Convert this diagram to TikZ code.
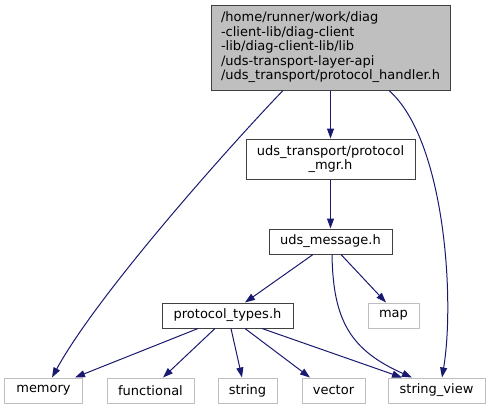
\documentclass[tikz,border=0pt]{standalone}
\usepackage{fontspec}
\setmainfont{DejaVu Sans}
\usetikzlibrary{arrows.meta}
\definecolor{edgeblue}{HTML}{191970}
\definecolor{leafgray}{HTML}{BFBFBF}
\definecolor{topfill}{HTML}{BFBFBF}
\definecolor{darkborder}{HTML}{404040}
\begin{document}
\begin{tikzpicture}[x=1bp,y=-1bp,
  every node/.style={font=\fontsize{13bp}{14.5bp}\selectfont, inner sep=0pt, line width=1bp},
  mainbox/.style={draw=darkborder, minimum height=25bp},
  leafbox/.style={draw=leafgray, minimum height=25bp},
  dep/.style={draw=edgeblue, line width=1bp, -{Triangle[length=10bp,width=7bp]}}
]
\useasboundingbox (0,0) rectangle (491,409);
\node[draw=darkborder, fill=topfill, minimum width=239bp, minimum height=85bp, align=left] (top) at (330.5,47.5)
  {/home/runner/work/diag\\-client-lib/diag-client\\-lib/diag-client-lib/lib\\/uds-transport-layer-api\\/uds\_transport/protocol\_handler.h};
\node[mainbox, minimum width=169bp, minimum height=40bp, align=center] (mgr) at (330.5,159) {uds\_transport/protocol\\\_mgr.h};
\node[mainbox, minimum width=123bp] (msg) at (330.5,241.5) {uds\_message.h};
\node[mainbox, minimum width=131bp] (pt) at (227.5,315.5) {protocol\_types.h};
\node[leafbox, minimum width=51bp] (map) at (393.5,315.5) {map};
\node[leafbox, minimum width=77bp] (memory) at (43.5,390.5) {memory};
\node[leafbox, minimum width=87bp] (functional) at (150.5,390.5) {functional};
\node[leafbox, minimum width=59bp] (string) at (247.5,390.5) {string};
\node[leafbox, minimum width=63bp] (vector) at (333.5,390.5) {vector};
\node[leafbox, minimum width=97bp] (sv) at (436.5,390.5) {string\_view};

\draw[dep] ([xshift=-47.5bp]top.south) .. controls (240,135) and (100,290) .. ([xshift=8.5bp]memory.north);
\draw[dep] (top.south) -- (mgr.north);
\draw[dep] ([xshift=58.5bp]top.south) .. controls (445,140) and (455,300) .. ([xshift=5.5bp]sv.north);
\draw[dep] (mgr.south) -- (msg.north);
\draw[dep] ([xshift=-17.5bp]msg.south) -- ([xshift=17.5bp]pt.north);
\draw[dep] ([xshift=10.5bp]msg.south) -- ([xshift=-7.5bp]map.north);
\draw[dep] ([xshift=1.5bp]msg.south) .. controls (333,320) and (350,350) .. ([xshift=-24.5bp]sv.north);
\draw[dep] ([xshift=-29.5bp]pt.south) -- ([xshift=31.5bp]memory.north);
\draw[dep] ([xshift=-12.5bp]pt.south) -- ([xshift=12.5bp]functional.north);
\draw[dep] ([xshift=3.5bp]pt.south) -- ([xshift=-5.5bp]string.north);
\draw[dep] ([xshift=17.5bp]pt.south) -- ([xshift=-23.5bp]vector.north);
\draw[dep] ([xshift=34.5bp]pt.south) -- ([xshift=-34.5bp]sv.north);
\end{tikzpicture}
\end{document}
